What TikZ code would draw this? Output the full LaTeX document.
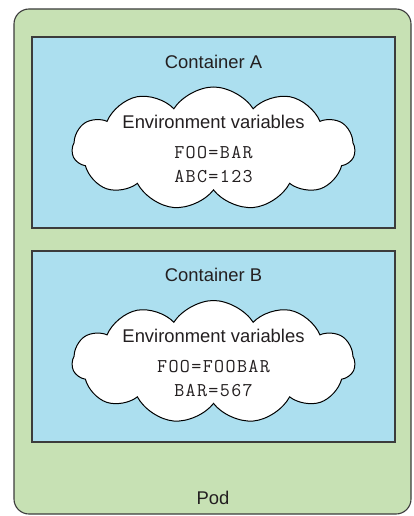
\documentclass[tikz,border=0pt]{standalone}
\usepackage{fontspec}
\setmainfont{Liberation Sans}
\newfontfamily\envmono{Latin Modern Mono}[LetterSpace=7]
\usepackage{tikz}
\usetikzlibrary{shapes,positioning}
\usepackage{xcolor}
\definecolor{podgreen}{RGB}{199,225,180}
\definecolor{ctrblue}{RGB}{172,223,239}
\definecolor{edgegray}{RGB}{60,60,60}
\definecolor{textgray}{RGB}{35,31,32}
\tikzset{
    podbox/.style={
        rectangle,
        draw=edgegray,
        line width=1.1pt,
        rounded corners=15pt,
        fill=podgreen
    },
    ctrbox/.style={
        rectangle,
        draw=edgegray,
        line width=1.1pt,
        fill=ctrblue,
        minimum width=363pt,
        minimum height=191pt
    },
    envcloud/.style={
        cloud,
        cloud puffs=11,
        cloud puff arc=115,
        draw=black,
        line width=1pt,
        fill=white,
        minimum width=283pt,
        minimum height=123pt
    },
    label/.style={
        text=textgray,
        font=\fontsize{18.4}{20}\selectfont
    },
    envvar/.style={
        text=textgray,
        font=\fontsize{19.5}{21}\selectfont\envmono
    }
}

\begin{document}
\begin{tikzpicture}[x=1pt,y=-1pt]
    \useasboundingbox (0,0) rectangle (413,516);

    % Pod
    \node[podbox, minimum width=397pt, minimum height=505pt] (pod) at (212.5,261.5) {};
    \node[label] (podlbl) at (213,498) {Pod};

    % Container A
    \node[ctrbox] (ctrA) at (213.5,132.5) {};
    \node[label] (lblA) at (213.5,62) {Container A};
    \node[envcloud] (cloudA) at (213.5,148.5) {};
    \node[label] (envA) at (213.5,122) {Environment variables};
    \node[envvar] (fooA) at (213.5,153) {FOO=BAR};
    \node[envvar] (abcA) at (213.5,177) {ABC=123};

    % Container B
    \node[ctrbox] (ctrB) at (213.5,346.5) {};
    \node[label] (lblB) at (213.5,275) {Container B};
    \node[envcloud] (cloudB) at (213.5,362) {};
    \node[label] (envB) at (213.5,336) {Environment variables};
    \node[envvar] (fooB) at (213.5,367) {FOO=FOOBAR};
    \node[envvar] (barB) at (213.5,391) {BAR=567};
\end{tikzpicture}
\end{document}
